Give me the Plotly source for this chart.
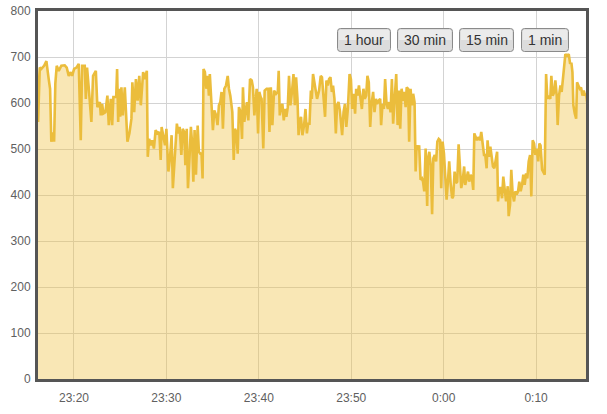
import plotly.graph_objects as go
from datetime import datetime, timedelta

# ---------------- data ----------------
base_time = datetime(2013, 6, 1, 23, 15, 58)

offset_s = [
    0, 9, 20, 30, 48, 63, 78, 87, 95, 106, 113, 121, 130, 143, 160, 182, 195, 208, 221, 230,
    243, 258, 273, 286, 295, 312, 319, 327, 340, 355, 366, 384, 394, 410, 416, 425, 433, 446, 459, 468,
    481, 490, 498, 516, 522, 529, 535, 542, 550, 559, 572, 589, 602, 615, 621, 633, 644, 655, 666, 676,
    691, 702, 715, 721, 730, 741, 750, 761, 772, 785, 796, 805, 811, 822, 833, 842, 855, 865, 876, 884,
    896, 910, 919, 928, 939, 948, 958, 965, 974, 982, 993, 1001, 1010, 1017, 1025, 1034, 1045, 1053, 1062, 1070,
    1077, 1083, 1092, 1101, 1110, 1118, 1124, 1135, 1144, 1153, 1165, 1174, 1183, 1192, 1200, 1209, 1218, 1229, 1240, 1248,
    1257, 1270, 1279, 1287, 1296, 1305, 1313, 1324, 1333, 1339, 1348, 1357, 1365, 1374, 1385, 1396, 1404, 1413, 1422, 1428,
    1437, 1445, 1454, 1460, 1471, 1480, 1493, 1504, 1511, 1520, 1530, 1541, 1554, 1565, 1571, 1578, 1586, 1595, 1604, 1612,
    1621, 1630, 1638, 1647, 1658, 1667, 1676, 1684, 1693, 1700, 1709, 1716, 1725, 1736, 1745, 1754, 1762, 1771, 1780, 1786,
    1794, 1803, 1811, 1820, 1833, 1844, 1852, 1861, 1872, 1881, 1890, 1898, 1907, 1916, 1924, 1933, 1942, 1950, 1959, 1968,
    1976, 1983, 1992, 2001, 2010, 2020, 2031, 2040, 2048, 2058, 2067, 2074, 2083, 2092, 2100, 2111, 2121, 2130, 2139, 2147,
    2156, 2165, 2173, 2184, 2193, 2202, 2210, 2219, 2230, 2236, 2245, 2254, 2262, 2271, 2280, 2288, 2297, 2306, 2314, 2323,
    2334, 2343, 2352, 2360, 2369, 2378, 2386, 2395, 2402, 2411, 2418, 2427, 2436, 2444, 2453, 2460, 2466, 2475, 2483, 2492,
    2501, 2508, 2516, 2525, 2535, 2541, 2549, 2558, 2567, 2575, 2584, 2593, 2601, 2610, 2619, 2626, 2635, 2644, 2652, 2661,
    2671, 2678, 2687, 2697, 2704, 2713, 2722, 2730, 2739, 2749, 2756, 2765, 2775, 2782, 2791, 2800, 2808, 2817, 2826, 2834,
    2841, 2850, 2858, 2869, 2878, 2886, 2895, 2904, 2912, 2921, 2927, 2936, 2945, 2953, 2962, 2971, 2980, 2989, 2995, 3003,
    3012, 3021, 3029, 3038, 3047, 3058, 3064, 3073, 3081, 3090, 3099, 3107, 3116, 3125, 3133, 3142, 3151, 3159, 3168, 3177,
    3185, 3194, 3203, 3211, 3220, 3229, 3237, 3246, 3256, 3263, 3271, 3281, 3289, 3298, 3307, 3315, 3324, 3334, 3341, 3350,
    3360, 3367, 3376, 3382, 3391, 3400, 3408, 3418, 3426, 3432, 3443, 3454, 3463, 3471, 3478, 3484, 3493, 3502, 3508, 3517,
    3525, 3534, 3543, 3551, 3560, 3567, 3575,
]

load = [
    677, 559, 677, 674, 681, 691, 652, 631, 516, 536, 516, 642, 681, 670, 681, 682, 677, 659, 667, 659,
    674, 677, 685, 519, 681, 681, 609, 677, 624, 559, 659, 670, 591, 602, 573, 598, 577, 580, 616, 552,
    609, 552, 613, 613, 674, 559, 631, 570, 634, 573, 634, 516, 534, 566, 645, 580, 652, 605, 659, 595,
    667, 652, 670, 483, 522, 508, 519, 501, 541, 534, 537, 476, 548, 530, 508, 544, 451, 480, 530, 415,
    487, 555, 534, 548, 487, 544, 537, 465, 544, 415, 487, 548, 508, 429, 541, 444, 551, 494, 490, 490,
    436, 674, 667, 631, 659, 616, 663, 580, 541, 584, 573, 552, 595, 602, 624, 544, 631, 638, 659, 631,
    616, 580, 476, 544, 537, 490, 591, 580, 522, 634, 559, 584, 602, 562, 652, 649, 634, 573, 616, 631,
    534, 624, 613, 609, 501, 627, 631, 631, 537, 634, 552, 627, 620, 624, 670, 573, 591, 598, 562, 587,
    570, 591, 659, 595, 627, 663, 595, 656, 609, 530, 562, 570, 530, 552, 587, 534, 555, 555, 627, 609,
    663, 645, 631, 609, 627, 659, 656, 624, 570, 649, 638, 652, 656, 624, 638, 609, 534, 595, 602, 584,
    552, 530, 580, 598, 548, 587, 663, 652, 587, 620, 577, 631, 616, 638, 616, 587, 631, 609, 616, 659,
    645, 548, 595, 624, 580, 609, 598, 605, 609, 552, 598, 587, 652, 598, 587, 602, 580, 652, 555, 602,
    663, 552, 627, 544, 631, 605, 624, 591, 634, 631, 516, 631, 595, 620, 602, 451, 508, 498, 508, 433,
    436, 429, 408, 501, 376, 480, 494, 465, 358, 480, 487, 473, 516, 522, 519, 415, 516, 490, 429, 390,
    436, 473, 426, 393, 397, 451, 426, 429, 510, 455, 415, 429, 462, 422, 436, 451, 429, 444, 436, 411,
    534, 526, 519, 526, 519, 537, 508, 487, 487, 458, 519, 483, 505, 483, 462, 458, 476, 494, 386, 415,
    415, 393, 440, 408, 386, 419, 354, 379, 455, 401, 386, 408, 401, 408, 429, 408, 422, 444, 422, 447,
    436, 473, 487, 397, 519, 512, 487, 501, 473, 512, 508, 455, 451, 444, 663, 609, 616, 609, 659, 616,
    624, 649, 616, 552, 616, 638, 624, 659, 681, 706, 703, 706, 685, 688, 667, 595, 577, 566, 645, 638,
    631, 634, 616, 627, 616, 620, 598,
]

x_tick_times = ["2013-06-01 23:20", "2013-06-01 23:30", "2013-06-01 23:40",
                "2013-06-01 23:50", "2013-06-02 00:00", "2013-06-02 00:10"]
x_tick_labels = ["23:20", "23:30", "23:40", "23:50", "0:00", "0:10"]
y_ticks = [0, 100, 200, 300, 400, 500, 600, 700, 800]
button_labels = ["1 hour", "30 min", "15 min", "1 min"]

times = [base_time + timedelta(seconds=s) for s in offset_s]
x_start = base_time + timedelta(seconds=8.5)
x_end = base_time + timedelta(seconds=3566)

# ---------------- figure ----------------
W, H = 607, 414
M_L, M_R, M_T, M_B = 38, 21, 11, 35
PW, PH = W - M_L - M_R, H - M_T - M_B

fig = go.Figure()
fig.add_trace(go.Scatter(
    x=times, y=load, mode="lines", fill="tozeroy",
    line=dict(color="#ebbd3c", width=2.6),
    fillcolor="rgba(241,196,70,0.40)",
    hoverinfo="x+y", showlegend=False,
))

axis_font = dict(family="Liberation Sans, Arial, sans-serif", size=12, color="#606060")

fig.update_layout(
    width=W, height=H,
    margin=dict(l=M_L, r=M_R, t=M_T, b=M_B, pad=0, autoexpand=False),
    paper_bgcolor="white", plot_bgcolor="white",
    xaxis=dict(
        type="date", range=[x_start, x_end], automargin=False,
        tickvals=x_tick_times, ticktext=x_tick_labels,
        showgrid=True, gridcolor="#d3d3d3", gridwidth=1,
        showline=True, linecolor="#555555", linewidth=3, mirror=True,
        ticks="", tickfont=axis_font, zeroline=False, ticklabelstandoff=6,
    ),
    yaxis=dict(
        range=[0, 800], tickvals=y_ticks, automargin=False,
        showgrid=True, gridcolor="#d3d3d3", gridwidth=1,
        showline=True, linecolor="#555555", linewidth=3, mirror=True,
        ticks="", tickfont=axis_font, zeroline=False, ticklabelstandoff=2,
    ),
)

# ---------------- range buttons (drawn as rounded boxes + text) ----------------
button_px = [(337.5, 390.5), (397.5, 452.5), (459.5, 513.5), (521.5, 568.5)]
btn_top_px, btn_bot_px = 28.5, 51.5


def px_x(px):
    return (px - M_L) / PW


def px_y(py):
    return (H - M_B - py) / PH


def rounded(x0p, x1p, y0p, y1p, r=3):
    x0, x1 = px_x(x0p), px_x(x1p)
    yt, yb = px_y(y0p), px_y(y1p)
    rx, ry = r / PW, r / PH
    return (f"M {x0+rx},{yt} L {x1-rx},{yt} Q {x1},{yt} {x1},{yt-ry} "
            f"L {x1},{yb+ry} Q {x1},{yb} {x1-rx},{yb} L {x0+rx},{yb} "
            f"Q {x0},{yb} {x0},{yb+ry} L {x0},{yt-ry} Q {x0},{yt} {x0+rx},{yt} Z")


for (bx0, bx1), label in zip(button_px, button_labels):
    fig.add_shape(type="path", xref="paper", yref="paper",
                  path=rounded(bx0, bx1, btn_top_px, btn_bot_px),
                  fillcolor="#dcdcdc", line=dict(color="#8a8a8a", width=1), layer="above")
    fig.add_shape(type="rect", xref="paper", yref="paper",
                  x0=px_x(bx0 + 1.5), x1=px_x(bx1 - 1.5),
                  y0=px_y((btn_top_px + btn_bot_px) / 2), y1=px_y(btn_top_px + 1.5),
                  fillcolor="#ebebeb", line=dict(width=0), layer="above")
    fig.add_annotation(xref="paper", yref="paper",
                       x=px_x((bx0 + bx1) / 2), y=px_y((btn_top_px + btn_bot_px) / 2),
                       text=label, showarrow=False, xanchor="center", yanchor="middle",
                       font=dict(family="Liberation Sans, Arial, sans-serif", size=14, color="#333333"))

fig.write_html(
    "out.html",
    config={"displayModeBar": False},
    post_script="document.body.style.margin='0';document.body.style.overflow='hidden';",
)
